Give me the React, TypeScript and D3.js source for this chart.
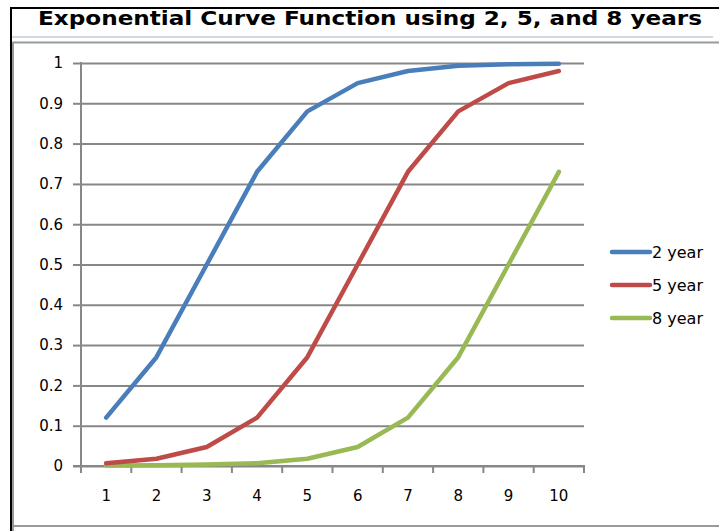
import { useEffect, useRef } from 'react';
import * as d3 from 'd3';

const years = [1, 2, 3, 4, 5, 6, 7, 8, 9, 10];
const twoYear = [0.12, 0.27, 0.5, 0.73, 0.88, 0.95, 0.98, 0.993, 0.997, 0.998];
const fiveYear = [0.007, 0.018, 0.047, 0.12, 0.27, 0.5, 0.73, 0.88, 0.95, 0.98];
const eightYear = [0.001, 0.002, 0.004, 0.007, 0.018, 0.047, 0.12, 0.27, 0.5, 0.73];
const yTicks = [0, 0.1, 0.2, 0.3, 0.4, 0.5, 0.6, 0.7, 0.8, 0.9, 1];

const seriesList = [
  { name: '2 year', values: twoYear, color: '#4a7ebb' },
  { name: '5 year', values: fiveYear, color: '#be4b48' },
  { name: '8 year', values: eightYear, color: '#98b954' },
];

export default function App(): JSX.Element {
  const svgRef = useRef<SVGSVGElement>(null);

  useEffect(() => {
    if (svgRef.current) svgRef.current.innerHTML = '';
    const width = 719;
    const height = 531;
    const marginLeft = 81;
    const plotRight = 584;
    const plotTop = 63;
    const plotBottom = 466;
    const font = "'DejaVu Sans', Verdana, sans-serif";
    const gridColor = '#878787';

    const svg = d3.select(svgRef.current).attr('width', width).attr('height', height).attr('viewBox', [0, 0, width, height]);

    // frame
    svg.append('rect').attr('width', width).attr('height', height).attr('fill', '#fff');
    svg.append('line').attr('x1', 10).attr('x2', width).attr('y1', 8).attr('y2', 8).attr('stroke', '#000').attr('stroke-width', 2);
    svg.append('line').attr('x1', 11).attr('x2', 11).attr('y1', 7).attr('y2', height).attr('stroke', '#000').attr('stroke-width', 2);
    svg.append('line').attr('x1', 12).attr('x2', 713).attr('y1', 37).attr('y2', 37).attr('stroke', '#d0d8e4').attr('stroke-width', 2);
    svg.append('path')
      .attr('d', `M13,${height}V42.5H${width}M13,526H${width}`)
      .attr('fill', 'none')
      .attr('stroke', '#999')
      .attr('stroke-width', 2);

    svg.append('text')
      .attr('x', 370)
      .attr('y', 25)
      .attr('text-anchor', 'middle')
      .attr('font-family', "'DejaVu Sans Condensed', 'DejaVu Sans', sans-serif")
      .attr('font-stretch', 'condensed')
      .attr('font-weight', 'bold')
      .attr('font-size', 19)
      .attr('textLength', 664)
      .attr('lengthAdjust', 'spacingAndGlyphs')
      .text('Exponential Curve Function using 2, 5, and 8 years');

    const x = d3.scaleBand<number>().domain(years).range([marginLeft, plotRight]);
    const y = d3.scaleLinear().domain([0, 1]).range([plotBottom, plotTop]);

    // y axis with gridlines
    svg.append('g')
      .attr('transform', `translate(${marginLeft},0)`)
      .call(d3.axisLeft(y).tickValues(yTicks).tickSize(8).tickPadding(10).tickFormat((d) => d3.format('')(+d)))
      .call((g) => g.select('.domain').remove())
      .call((g) => g.selectAll('.tick line').attr('stroke', gridColor).attr('stroke-width', 2))
      .call((g) =>
        g.selectAll('.tick line')
          .clone()
          .attr('x2', plotRight - marginLeft)
      )
      .call((g) => g.selectAll('.tick text').attr('font-family', font).attr('font-size', 15).attr('fill', '#000'));

    svg.append('line')
      .attr('x1', marginLeft).attr('x2', marginLeft)
      .attr('y1', plotTop - 1).attr('y2', plotBottom)
      .attr('stroke', gridColor).attr('stroke-width', 2);

    // x axis
    const xAxis = svg.append('g').attr('transform', `translate(0,${plotBottom})`);
    xAxis.append('line').attr('x1', marginLeft - 8).attr('x2', plotRight + 1).attr('stroke', gridColor).attr('stroke-width', 2);
    const bounds = [...years.map((d) => x(d) as number), plotRight];
    xAxis.selectAll('.xt')
      .data(bounds)
      .join('line')
      .attr('x1', (d) => d).attr('x2', (d) => d)
      .attr('y1', 0).attr('y2', 7)
      .attr('stroke', gridColor).attr('stroke-width', 2);
    xAxis.selectAll('.xl')
      .data(years)
      .join('text')
      .attr('x', (d) => (x(d) as number) + x.bandwidth() / 2)
      .attr('y', 35)
      .attr('text-anchor', 'middle')
      .attr('font-family', font)
      .attr('font-size', 15)
      .text((d) => d);

    const line = d3.line<number>()
      .x((_, i) => (x(years[i]) as number) + x.bandwidth() / 2)
      .y((d) => y(d));

    // draw green, red, blue so blue is on top
    [...seriesList].reverse().forEach((s) => {
      svg.append('path')
        .attr('d', line(s.values))
        .attr('fill', 'none')
        .attr('stroke', s.color)
        .attr('stroke-width', 4.5)
        .attr('stroke-linejoin', 'round')
        .attr('stroke-linecap', 'round');
    });

    // legend
    const legend = svg.append('g').attr('transform', 'translate(612,252)');
    seriesList.forEach((s, i) => {
      const g = legend.append('g').attr('transform', `translate(0,${i * 33})`);
      g.append('line').attr('x1', 0).attr('x2', 38).attr('stroke', s.color).attr('stroke-width', 4.5).attr('stroke-linecap', 'round');
      g.append('text')
        .attr('x', 40)
        .attr('y', 6)
        .attr('font-family', font)
        .attr('font-size', 16)
        .text(s.name);
    });
  }, []);

  return (
    <div style={{ position: 'absolute', left: 0, top: 0 }}>
      <svg ref={svgRef} style={{ display: 'block' }} />
    </div>
  );
}
